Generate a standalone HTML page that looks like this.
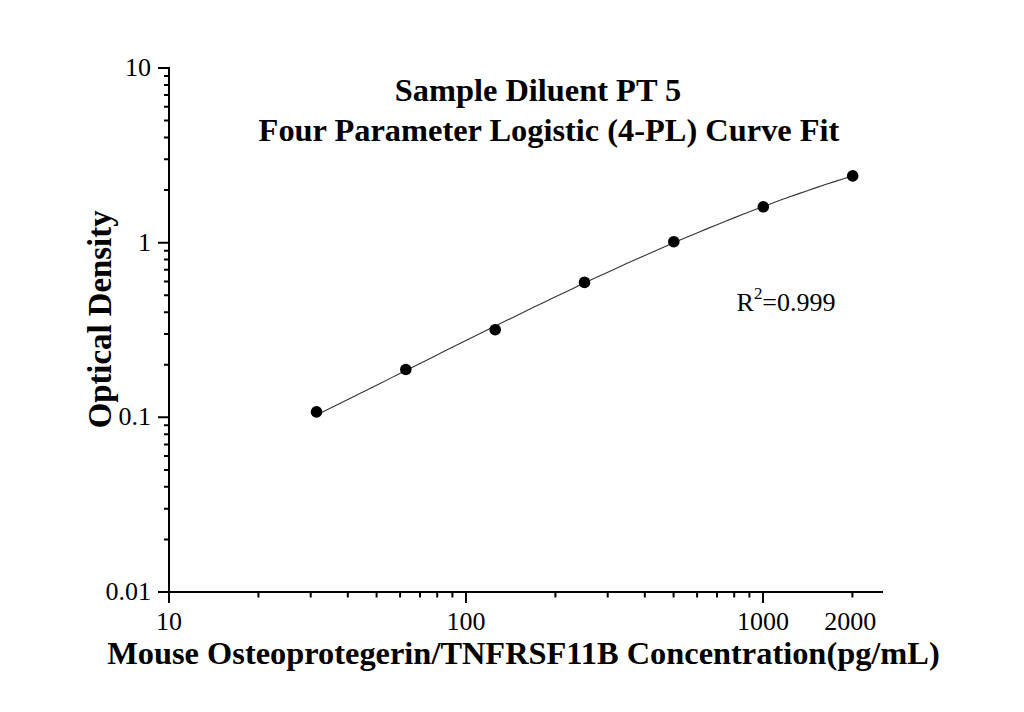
<!DOCTYPE html>
<html><head><meta charset="utf-8"><style>
html,body{margin:0;padding:0;background:#fff;}
body{width:1024px;height:712px;overflow:hidden;font-family:"Liberation Serif",serif;}
svg{display:block}
</style></head><body>
<svg width="1024" height="712" viewBox="0 0 1024 712">
<rect width="1024" height="712" fill="#fff"/>
<path d="M169.0 67.0V592.0H883.0" fill="none" stroke="#000" stroke-width="2"/>
<path d="M158.0 592.01H169.0 M164.0 539.43H169.0 M164.0 508.67H169.0 M164.0 486.85H169.0 M164.0 469.92H169.0 M164.0 456.09H169.0 M164.0 444.40H169.0 M164.0 434.27H169.0 M164.0 425.33H169.0 M158.0 417.34H169.0 M164.0 364.76H169.0 M164.0 334.00H169.0 M164.0 312.18H169.0 M164.0 295.25H169.0 M164.0 281.42H169.0 M164.0 269.73H169.0 M164.0 259.60H169.0 M164.0 250.66H169.0 M158.0 242.67H169.0 M164.0 190.09H169.0 M164.0 159.33H169.0 M164.0 137.51H169.0 M164.0 120.58H169.0 M164.0 106.75H169.0 M164.0 95.06H169.0 M164.0 84.93H169.0 M164.0 75.99H169.0 M158.0 68.00H169.0 M169.00 592.0V603.0 M258.41 592.0V597.5 M310.71 592.0V597.5 M347.81 592.0V597.5 M376.59 592.0V597.5 M400.11 592.0V597.5 M419.99 592.0V597.5 M437.22 592.0V597.5 M452.41 592.0V597.5 M466.00 592.0V603.0 M555.41 592.0V597.5 M607.71 592.0V597.5 M644.81 592.0V597.5 M673.59 592.0V597.5 M697.11 592.0V597.5 M716.99 592.0V597.5 M734.22 592.0V597.5 M749.41 592.0V597.5 M763.00 592.0V603.0 M852.41 592.0V597.5" fill="none" stroke="#000" stroke-width="2"/>
<polyline points="316.5,415.06 325.6,410.57 334.7,406.07 343.8,401.56 352.9,397.04 361.9,392.51 371.0,387.97 380.1,383.43 389.2,378.88 398.3,374.33 407.4,369.78 416.5,365.24 425.6,360.69 434.6,356.14 443.7,351.61 452.8,347.07 461.9,342.55 471.0,338.03 480.1,333.53 489.2,329.04 498.3,324.56 507.4,320.09 516.4,315.65 525.5,311.22 534.6,306.81 543.7,302.42 552.8,298.05 561.9,293.71 571.0,289.39 580.1,285.10 589.1,280.83 598.2,276.60 607.3,272.40 616.4,268.23 625.5,264.09 634.6,259.99 643.7,255.92 652.8,251.90 661.8,247.91 670.9,243.97 680.0,240.06 689.1,236.20 698.2,232.39 707.3,228.62 716.4,224.91 725.5,221.24 734.6,217.62 743.6,214.06 752.7,210.54 761.8,207.09 770.9,203.69 780.0,200.35 789.1,197.07 798.2,193.86 807.3,190.70 816.3,187.61 825.4,184.59 834.5,181.63 843.6,178.74 852.7,175.92" fill="none" stroke="#333" stroke-width="1.1"/>
<circle cx="316.5" cy="411.9" r="5.8" fill="#000"/>
<circle cx="405.8" cy="369.5" r="5.8" fill="#000"/>
<circle cx="495.2" cy="329.7" r="5.8" fill="#000"/>
<circle cx="584.5" cy="282.4" r="5.8" fill="#000"/>
<circle cx="673.8" cy="241.7" r="5.8" fill="#000"/>
<circle cx="763.3" cy="206.8" r="5.8" fill="#000"/>
<circle cx="852.7" cy="175.9" r="5.8" fill="#000"/>
<text x="151" y="76.0" font-family="Liberation Serif" font-size="26" text-anchor="end">10</text>
<text x="151" y="250.7" font-family="Liberation Serif" font-size="26" text-anchor="end">1</text>
<text x="151" y="425.3" font-family="Liberation Serif" font-size="26" text-anchor="end">0.1</text>
<text x="151" y="600.0" font-family="Liberation Serif" font-size="26" text-anchor="end">0.01</text>
<text x="169.0" y="630" font-family="Liberation Serif" font-size="26" text-anchor="middle">10</text>
<text x="466.0" y="630" font-family="Liberation Serif" font-size="26" text-anchor="middle">100</text>
<text x="763.0" y="630" font-family="Liberation Serif" font-size="26" text-anchor="middle">1000</text>
<text x="850.2" y="630" font-family="Liberation Serif" font-size="26" text-anchor="middle">2000</text>
<text x="538" y="100.5" font-family="Liberation Serif" font-weight="bold" font-size="32.4" text-anchor="middle">Sample Diluent PT 5</text>
<text x="549" y="141" font-family="Liberation Serif" font-weight="bold" font-size="32.4" text-anchor="middle">Four Parameter Logistic (4-PL) Curve Fit</text>
<text transform="translate(110.7 319.4) rotate(-90)" font-family="Liberation Serif" font-weight="bold" font-size="32.85" text-anchor="middle">Optical Density</text>
<text x="523.5" y="664.2" font-family="Liberation Serif" font-weight="bold" font-size="32.4" text-anchor="middle">Mouse Osteoprotegerin/TNFRSF11B Concentration(pg/mL)</text>
<text x="736.5" y="310.5" font-family="Liberation Serif" font-size="26">R</text>
<text x="754" y="298.8" font-family="Liberation Serif" font-size="17">2</text>
<text x="835.5" y="310.5" font-family="Liberation Serif" font-size="26" text-anchor="end">=0.999</text>
</svg>
</body></html>
